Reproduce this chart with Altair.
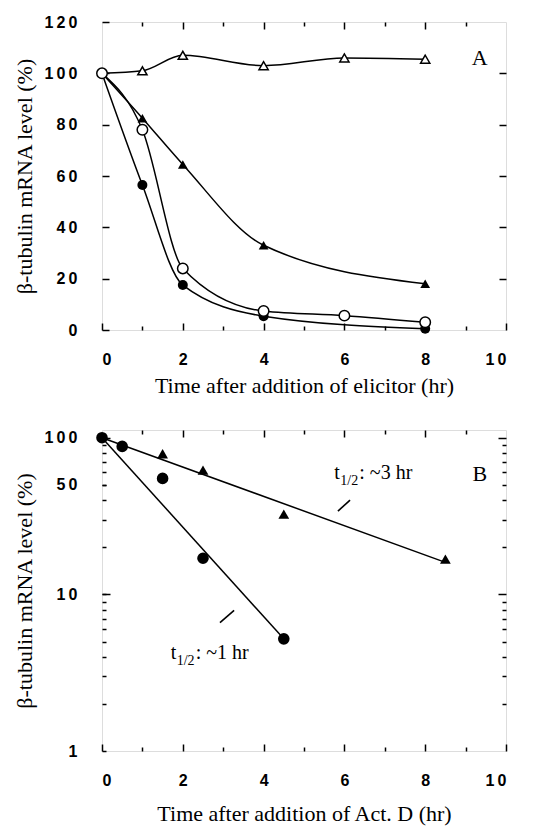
import altair as alt
import pandas as pd

# ---------------- Panel A data ----------------
a_t_open_tri = [0, 1, 2, 4, 6, 8]
a_open_tri = [100, 101, 107, 103, 106, 105.5]
a_t_filled_tri = [0, 1, 2, 4, 8]
a_filled_tri = [100, 82.5, 64.5, 33, 18]
a_t_open_circ = [0, 1, 2, 4, 6, 8]
a_open_circ = [100, 78, 24, 7.4, 5.6, 3]
a_t_filled_circ = [0, 1, 2, 4, 8]
a_filled_circ = [100, 56.5, 17.5, 5.4, 0.5]

a_x_major = [0, 2, 4, 6, 8, 10]
a_x_minor = [1, 3, 5, 7, 9]
a_x_top_major = [2, 4, 6, 8]
a_y_ticks = [0, 20, 40, 60, 80, 100, 120]
a_y_right = [20, 40, 60, 80, 100]

# ---------------- Panel B data ----------------
b_t_circ = [0, 0.5, 1.5, 2.5, 4.5]
b_circ = [100, 88, 55, 17, 5.2]
b_t_tri = [1.5, 2.5, 4.5, 8.5]
b_tri = [79, 62, 32.5, 16.8]
b_fit_circ_t = [0, 4.5]
b_fit_circ = [100, 5.2]
b_fit_tri_t = [0, 8.5]
b_fit_tri = [100, 16]

b_y_labels = [1, 10, 50, 100]
b_y_major = [10, 100]
b_y_minor = [2, 3, 4, 5, 6, 7, 8, 9, 20, 30, 40, 50, 60, 70, 80, 90]

# annotations (panel B)
ann_t = [5.75, 1.7]
ann_v = [54.6, 3.85]
ann_main = ["t", "t"]
ann_sub = ["1/2", "1/2"]
ann_rest = [": ~3 hr", ": ~1 hr"]
seg_t = [5.84, 2.92]
seg_v = [34, 6.6]
seg_t2 = [6.14, 3.27]
seg_v2 = [40, 7.9]

panel_t = [9.35]
panel_a_v = [105.8]
panel_b_v = [58.7]

TITLE_FONT = "Liberation Serif"
LABEL_FONT = "Liberation Sans"
LABEL_EXPR = "join(split(format(datum.value, 'd'), ''), '\u2009')"


def df(t, v):
    return pd.DataFrame({"t": t, "v": v})


def enc(ch, xs, ys):
    return ch.encode(
        x=alt.X("t:Q", scale=xs, axis=None),
        y=alt.Y("v:Q", scale=ys, axis=None),
    )


def ax(orient, values, size, labels=False, title=None, title_pad=10):
    kw = dict(
        orient=orient, values=values, tickSize=size, offset=-size,
        domain=False, grid=False, labels=labels, tickColor="black",
        tickWidth=1.5, title=title,
    )
    if labels:
        kw.update(
            labelExpr=LABEL_EXPR, labelFont=LABEL_FONT, labelFontSize=16,
            labelFontWeight="bold", labelColor="black",
            labelPadding=25 if orient == "left" else 21,
            titleFont=TITLE_FONT, titleFontSize=22, titleFontWeight="normal",
            titleColor="black", titlePadding=title_pad,
        )
    return alt.Axis(**kw)


def axis_layer(data, xs, ys, xaxis=None, yaxis=None):
    return alt.Chart(data).mark_point(opacity=0).encode(
        x=alt.X("t:Q", scale=xs, axis=xaxis),
        y=alt.Y("v:Q", scale=ys, axis=yaxis),
    )


# ---------------- Panel A ----------------
XA = alt.Scale(domain=[0, 10], nice=False, zero=False)
YA = alt.Scale(domain=[0, 120], nice=False, zero=False)

line_kw = dict(interpolate="monotone", color="black", strokeWidth=1.5)
a_lines = [
    enc(alt.Chart(df(a_t_open_tri, a_open_tri)).mark_line(**line_kw), XA, YA),
    enc(alt.Chart(df(a_t_filled_tri, a_filled_tri)).mark_line(**line_kw), XA, YA),
    enc(alt.Chart(df(a_t_open_circ, a_open_circ)).mark_line(**line_kw), XA, YA),
    enc(alt.Chart(df(a_t_filled_circ, a_filled_circ)).mark_line(**line_kw), XA, YA),
]
open_kw = dict(filled=True, fill="white", stroke="black", strokeWidth=1.5, opacity=1)
fill_kw = dict(filled=True, color="black", opacity=1)
a_points = [
    enc(alt.Chart(df(a_t_open_tri[1:], a_open_tri[1:])).mark_point(shape="triangle-up", size=85, **open_kw), XA, YA),
    enc(alt.Chart(df(a_t_filled_tri[1:], a_filled_tri[1:])).mark_point(shape="triangle-up", size=95, **fill_kw), XA, YA),
    enc(alt.Chart(df(a_t_filled_circ[1:], a_filled_circ[1:])).mark_point(shape="circle", size=100, **fill_kw), XA, YA),
    enc(alt.Chart(df(a_t_open_circ, a_open_circ)).mark_point(shape="circle", size=110, **open_kw), XA, YA),
]
a_label = enc(
    alt.Chart(pd.DataFrame({"t": panel_t, "v": panel_a_v, "s": ["A"]})).mark_text(
        font=TITLE_FONT, fontSize=22, color="black", align="center", baseline="middle"
    ).encode(text="s:N"), XA, YA)

a_data = df(a_t_open_tri, a_open_tri)
a_axes = [
    axis_layer(a_data, XA, YA,
               ax("bottom", a_x_major, 7, True, "Time after addition of elicitor (hr)", 8),
               ax("left", a_y_ticks, 7, True, "β-tubulin mRNA level (%)", 7)),
    axis_layer(a_data, XA, YA, ax("bottom", a_x_minor, 4), ax("right", a_y_right, 7)),
    axis_layer(a_data, XA, YA, ax("top", a_x_top_major, 7)),
    axis_layer(a_data, XA, YA, ax("top", a_x_minor, 4)),
]

panel_a = alt.layer(*a_axes, *a_lines, *a_points, a_label).resolve_axis(
    x="independent", y="independent"
).properties(width=404, height=308)

# ---------------- Panel B ----------------
XB = alt.Scale(domain=[0, 10], nice=False, zero=False)
YB = alt.Scale(type="log", domain=[1, 112], nice=False)

b_lines = [
    enc(alt.Chart(df(b_fit_circ_t, b_fit_circ)).mark_line(color="black", strokeWidth=1.5), XB, YB),
    enc(alt.Chart(df(b_fit_tri_t, b_fit_tri)).mark_line(color="black", strokeWidth=1.5), XB, YB),
]
b_points = [
    enc(alt.Chart(df(b_t_tri, b_tri)).mark_point(shape="triangle-up", size=115, **fill_kw), XB, YB),
    enc(alt.Chart(df(b_t_circ, b_circ)).mark_point(shape="circle", size=135, **fill_kw), XB, YB),
]
seg_df = pd.DataFrame({"t": seg_t, "v": seg_v, "t2": seg_t2, "v2": seg_v2})
b_segs = alt.Chart(seg_df).mark_rule(color="black", strokeWidth=1.6).encode(
    x=alt.X("t:Q", scale=XB, axis=None), y=alt.Y("v:Q", scale=YB, axis=None),
    x2="t2:Q", y2="v2:Q",
)
ann_df = pd.DataFrame({"t": ann_t, "v": ann_v, "m": ann_main, "s": ann_sub, "r": ann_rest})
txt_kw = dict(font=TITLE_FONT, color="black", align="left", baseline="alphabetic")
b_ann = [
    enc(alt.Chart(ann_df).mark_text(fontSize=20, **txt_kw).encode(text="m:N"), XB, YB),
    enc(alt.Chart(ann_df).mark_text(fontSize=14, dx=6, dy=6, **txt_kw).encode(text="s:N"), XB, YB),
    enc(alt.Chart(ann_df).mark_text(fontSize=20, dx=25, **txt_kw).encode(text="r:N"), XB, YB),
]
b_label = enc(
    alt.Chart(pd.DataFrame({"t": panel_t, "v": panel_b_v, "s": ["B"]})).mark_text(
        font=TITLE_FONT, fontSize=22, color="black", align="center", baseline="middle"
    ).encode(text="s:N"), XB, YB)

b_data = df(b_t_circ, b_circ)
b_axes = [
    axis_layer(b_data, XB, YB,
               ax("bottom", a_x_major, 7, True, "Time after addition of Act. D (hr)", 15),
               ax("left", b_y_labels, 4, True, "β-tubulin mRNA level (%)", 7)),
    axis_layer(b_data, XB, YB, ax("bottom", a_x_minor, 4), ax("left", b_y_major, 8)),
    axis_layer(b_data, XB, YB, ax("top", a_x_top_major, 7), ax("left", b_y_minor, 4)),
    axis_layer(b_data, XB, YB, ax("top", a_x_minor, 4), ax("right", b_y_major, 8)),
    axis_layer(b_data, XB, YB, None, ax("right", b_y_minor, 4)),
]

panel_b = alt.layer(*b_axes, *b_lines, b_segs, *b_points, *b_ann, b_label).resolve_axis(
    x="independent", y="independent"
).properties(width=404, height=321)

chart = alt.vconcat(panel_a, panel_b, spacing=31).configure_view(
    stroke="black", strokeWidth=1.6
).configure(background="white")

chart.save("out.html", embed_options={"renderer": "svg", "actions": False})
